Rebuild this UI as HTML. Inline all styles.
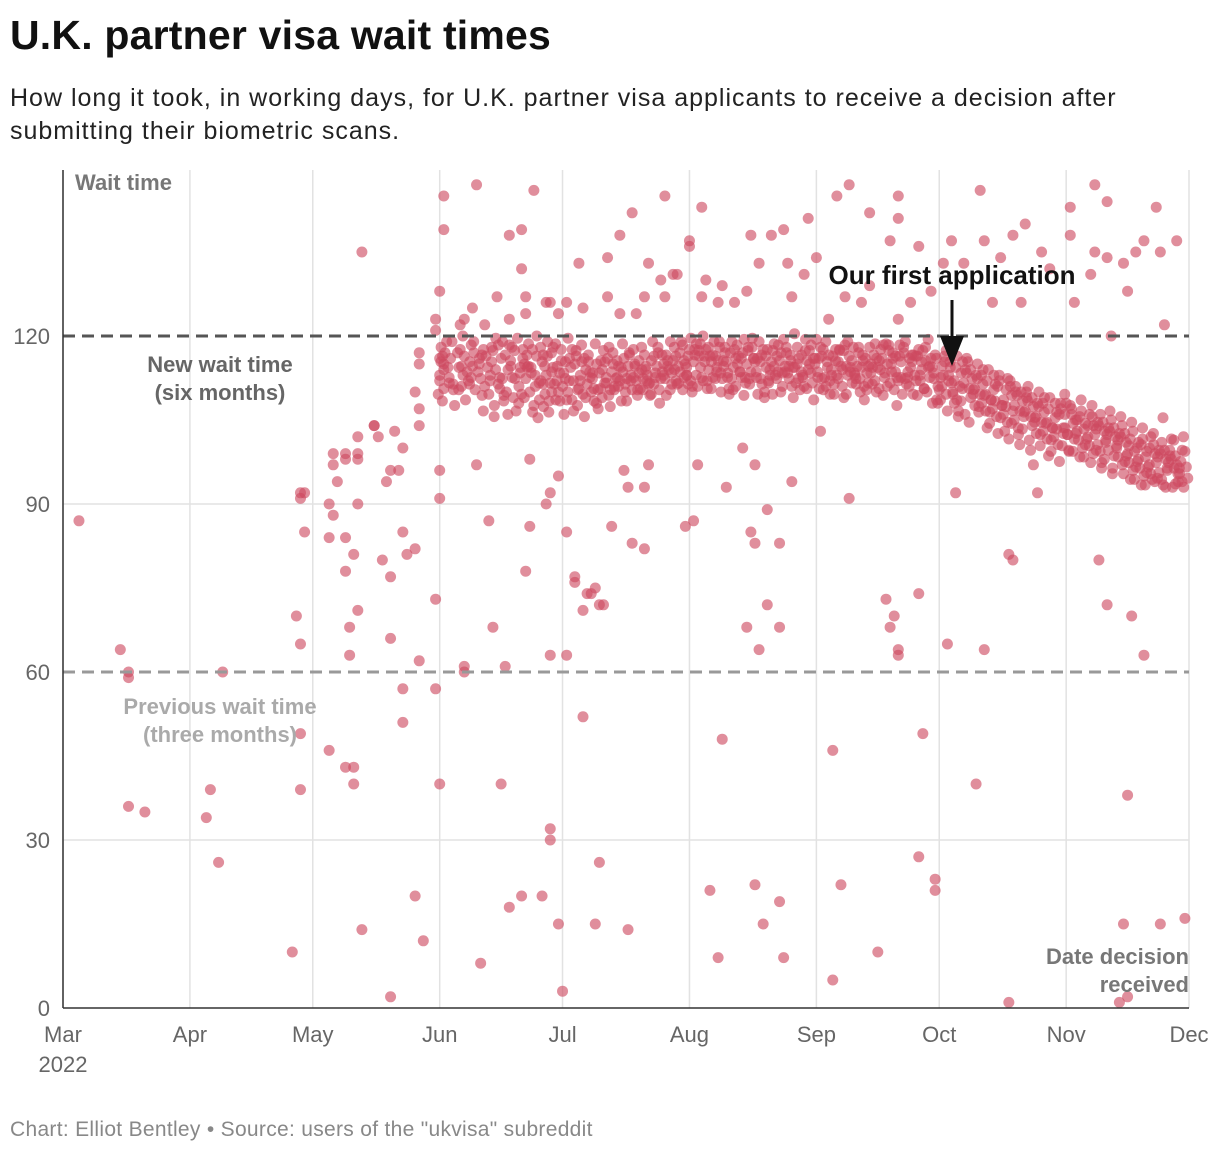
<!DOCTYPE html>
<html><head><meta charset="utf-8">
<style>
body{margin:0;background:#fff;width:1220px;height:1154px;overflow:hidden;font-family:"Liberation Sans",sans-serif;}
#title{position:absolute;left:10px;top:12px;font-size:41px;font-weight:bold;color:#111;letter-spacing:0.2px}
#subtitle{position:absolute;left:10px;top:82px;font-size:25px;line-height:33px;color:#222;width:1150px;letter-spacing:1px}
#footer{position:absolute;left:10px;top:1118px;font-size:21px;color:#888;letter-spacing:0.3px}
svg{position:absolute;left:0;top:0}
</style></head><body>
<div id="title">U.K. partner visa wait times</div>
<div id="subtitle">How long it took, in working days, for U.K. partner visa applicants to receive a decision after submitting their biometric scans.</div>
<div id="footer">Chart: Elliot Bentley • Source: users of the "ukvisa" subreddit</div>
<svg id="chart" width="1220" height="1154"></svg>
<script>
const monthLabels=["Mar","Apr","May","Jun","Jul","Aug","Sep","Oct","Nov","Dec"];
const monthDays=[0,31,61,92,122,153,184,214,245,275];
const yTicks=[0,30,60,90,120];
const sparsePoints=[[3.9,87],[14,64],[16,60],[16,59],[16,36],[20,35],[35,34],[36,39],[38,26],[39,60],[56,10],[57,70],[58,65],[58,39],[58,49],[58,92],[59,92],[58,91],[59,85],
[65,84],[65,46],[65,90],[66,88],[66,97],[66,99],[67,94],[69,84],[69,99],[69,43],[69,78],[70,63],[70,68],[71,81],[71,43],[71,40],[72,71],[72,90],[72,98],[72,102],[72,99],[73,135],[73,14],[69,98],
[76,104],[76,104],[77,102],[78,80],[79,94],[80,96],[80,77],[80,66],[80,2],[81,103],[82,96],[83,57],[83,51],[83,85],[83,100],[84,81],[86,82],[86,20],[87,62],[87,104],[86,110],[88,12],[87,117],[87,115],[87,107],
[91,57],[91,73],[92,40],[92,91],[92,96],[92,128],[93,145],[93,139],[92,116],[93,114],[93,115],[92,112],
[98,61],[98,60],[101,97],[101,147],[102,8],[104,87],[105,68],[106,127],[107,40],[108,61],[109,18],[109,138],[112,20],[112,139],[112,132],[113,127],[113,78],[114,98],[114,86],[115,146],[117,20],[118,90],[119,92],[119,63],
[119,32],[119,30],[121,15],[121,95],[122,3],[123,63],[123,85],[125,76],[125,77],[126,133],[127,52],[127,71],[128,74],[129,74],[130,75],[130,15],[131,26],[131,72],[132,72],[133,127],[133,134],[134,86],[136,138],[137,96],[138,14],[138,93],[139,83],[139,142],[142,82],[142,93],[143,97],[143,133],[147,145],[149,131],[152,86],[153,137],[154,87],[155,97],[156,143],[158,21],[160,9],[161,48],[162,93],[166,100],[169,97],[169,22],[167,68],[168,85],[169,83],[170,64],[171,15],[172,72],[172,89],[175,19],[175,68],[175,83],[176,9],[178,94],[182,141],[185,103],[188,46],[188,5],[190,22],[192,91],[189,145],[192,147],[197,142],[199,10],[201,73],[203,70],[202,68],[204,64],[204,63],[204,145],[204,141],[209,74],[209,27],[210,49],[213,23],[213,21],[216,65],[218,92],[223,40],[225,64],[224,146],[231,1],[231,81],[232,80],[237,97],[238,92],[246,143],[252,147],[253,80],[255,144],[255,72],[258,1],[259,15],[260,38],[260,2],[261,70],[264,63],[267,143],[268,15],[274,16],
[91,121],[91,123],[97,122],[98,123],[100,125],[103,122],[109,123],[113,124],[118,126],[119,126],[121,124],[123,126],[127,125],[136,124],[140,124],[142,127],[146,130],[147,127],[150,131],[153,136],[156,127],[157,130],[160,126],[161,129],[164,126],[167,128],[168,138],[170,133],[173,138],[176,139],[177,133],[178,127],[181,131],[184,134],[187,123],[191,127],[195,126],[197,129],[202,137],[204,123],[207,126],[209,136],[212,128],[215,133],[217,137],[220,133],[225,137],[227,126],[229,134],[232,138],[234,126],[235,140],[239,135],[241,132],[246,138],[247,126],[251,131],[252,135],[255,134],[256,120],[259,133],[260,128],[262,135],[264,137],[268,135],[272,137],[269,122]];
const denseWaits=[
[92,113,116,110,118],[93,115,111,119,108],[94,112,117,114],[95,116,110,113,119],[96,114,108,117,111],[97,118,113,110,115],[98,111,116,114,120],[99,115,109,112,118],[100,113,117,111,115],[101,116,110,114,119],[102,112,118,115,109],[103,117,111,114,107],[104,113,116,110,118],[105,115,108,112,117,120],[106,111,114,118,106],[107,116,109,113,119,111],[108,112,117,114,108],[109,115,110,118,113,106],[110,118,112,116,109],[111,114,107,111,117,120],[112,110,115,113,118,108],[113,116,112,119,109,114],[114,113,117,110,106,115],[115,118,111,114,108,120],[116,112,116,109,113,105],[117,115,110,118,107,112],[118,117,113,108,115,119,111],[119,110,116,112,118,106,114],[120,114,109,117,111,115],[121,116,112,108,119,110],
[122,111,115,118,106,113],[123,113,109,116,112,120],[124,118,110,114,107,112],[125,112,116,109,115,110],[126,115,108,113,117,111],[127,110,114,118,106,112],[128,116,111,113,109,115],[129,113,117,110,108,114],[130,111,115,112,119,107],[131,114,110,116,108,113],[132,117,112,109,115,111],[133,112,116,110,113,118],[134,115,109,114,111,107],[135,110,113,117,112,115],[136,114,111,108,116,112],[137,116,112,119,110,114],[138,111,115,113,108,117],[139,113,117,110,115,112],[140,115,110,118,112,113],[141,112,116,114,109,111],[142,117,113,110,115,118],[143,114,111,116,112,109],[144,116,112,119,113,110],[145,113,117,111,115,108],[146,115,110,114,118,112],[147,112,116,113,109,117],[148,117,114,111,115,119],[149,114,110,116,112,113],[150,116,112,118,111,114],[151,113,117,110,115,119],[152,115,111,116,113,118],
[153,114,118,111,116,120,113],[154,117,112,115,119,110],[155,113,116,118,111,114],[156,115,119,112,117,113],[157,118,114,116,111,120],[158,112,116,113,118,115],[159,116,111,119,114,117],[160,114,118,112,116,110],[161,117,113,115,119,112],[162,115,110,118,113,116],[163,113,117,114,111,119],[164,116,112,118,115,110],[165,118,114,111,116,113],[166,112,116,119,114,117],[167,115,111,113,118,109],[168,117,114,116,112,120],[169,113,118,115,110,116],[170,116,112,114,119,111],[171,114,117,110,115,118],[172,118,113,116,112,109],[173,112,115,119,114,117],[174,116,110,113,118,115],[175,114,117,112,116,111],[176,117,113,115,110,119],[177,113,116,118,112,114],[178,115,111,114,117,109],[179,118,114,112,116,120],[180,112,117,115,110,113],[181,116,113,119,114,111],[182,114,118,111,115,117],[183,117,112,116,113,109],
[184,113,116,119,111,115],[185,116,112,114,118,110],[186,114,118,111,116,113],[187,117,113,115,110,119],[188,112,116,118,114,111],[189,115,110,113,117,116],[190,118,114,112,115,109],[191,113,117,115,111,118],[192,116,112,119,114,110],[193,114,118,111,116,113],[194,117,113,115,110,112],[195,112,116,118,114,109],[196,115,111,113,117,116],[197,118,114,112,115,110],[198,113,117,116,111,119],[199,116,112,114,118,110],[200,114,118,111,116,113],[201,117,113,115,109,119],[202,112,116,118,114,111],[203,115,110,113,117,116],[204,118,114,112,115,108],[205,113,117,116,110,119],[206,116,112,114,118,111],[207,114,117,111,115,113],[208,117,113,116,110,112],[209,112,116,118,114,109],[210,115,111,113,117,116],[211,113,118,114,111,110],[212,116,112,115,108,119],[213,114,117,111,113,109],
[214,113,116,110,115,108],[215,111,115,109,113,117],[216,114,110,112,116,107],[217,112,108,115,110,113],[218,110,114,107,112,116],[219,113,109,111,115,106],[220,111,114,108,112,116],[221,109,113,111,106,115],[222,112,108,114,110,105],[223,110,113,107,111,115],[224,108,112,110,114,106],[225,111,107,113,109,104],[226,109,112,106,110,114],[227,107,111,109,113,104],[228,110,106,112,108,103],[229,108,111,105,109,113],[230,106,110,108,103,112],[231,109,105,111,107,102],[232,107,110,104,108,112],[233,105,109,107,111,102],[234,108,104,110,106,101],[235,106,109,103,107,111],[236,104,108,106,110,101],[237,107,103,109,105,100],[238,105,108,102,106,110],[239,103,107,105,109,100],[240,106,102,108,104,99],[241,104,107,101,105,109],[242,102,106,104,108,99],[243,105,101,107,103,98],[244,103,106,100,104,108],
[245,106,102,104,108,99,110],[246,104,100,106,102,108],[247,102,105,99,103,107],[248,105,101,107,103,98],[249,103,106,100,104,109],[250,101,104,98,102,106],[251,104,100,106,102,97],[252,102,105,99,103,108],[253,100,104,97,101,106],[254,103,99,105,101,96],[255,101,104,98,102,107],[256,99,103,96,100,105],[257,102,98,104,100,95],[258,100,103,97,101,106],[259,98,102,95,99,104],[260,101,97,103,99,94],[261,99,102,96,100,105],[262,97,101,94,98,103],[263,100,96,102,98,93],[264,98,101,95,99,104],[265,96,100,93,97,102],[266,99,95,101,97,94],[267,97,100,94,98,103],[268,95,99,93,96,101],[269,98,94,100,96,105],[270,96,99,93,97,102],[271,94,98,96,100,93],[272,97,95,99,94,101],[273,95,98,93,96,100],[274,97,94,99,95,102]];

const NS="http://www.w3.org/2000/svg";
const svg=document.getElementById('chart');
const X0=63,X1=1189,Y0=1008,DMAX=275;
function x(d){return X0+d*(X1-X0)/DMAX;}
function y(v){return Y0-v*5.6;}
function el(tag,attrs,parent){const e=document.createElementNS(NS,tag);for(const k in attrs)e.setAttribute(k,attrs[k]);(parent||svg).appendChild(e);return e;}
function txt(s,attrs){const e=el('text',attrs);e.textContent=s;return e;}

monthDays.forEach((d,i)=>{
  const g=el('line',{x1:x(d),x2:x(d),y1:170,y2:Y0,stroke:'#e2e2e2','stroke-width':1.5});
  
  
  const t=txt(monthLabels[i],{x:x(d),y:1042,'text-anchor':'middle','font-size':22,fill:'#666'});
  
  
});
const yr=txt('2022',{x:x(0),y:1072,'text-anchor':'middle','font-size':22,fill:'#666'});


yTicks.forEach(v=>{
  if(v===30||v===90){
    const g=el('line',{x1:X0,x2:X1,y1:y(v),y2:y(v),stroke:'#e2e2e2','stroke-width':1.5});
    
    
  }
  const t=txt(String(v),{x:50,y:y(v)+8,'text-anchor':'end','font-size':22,fill:'#666'});
  
  
});

const dots=el('g',{fill:'rgb(205,72,95)','fill-opacity':0.62});


function dot(d,v){
  const c=el('circle',{cx:x(d),cy:y(v),r:5.5},dots);
  
  
}
sparsePoints.forEach(p=>dot(p[0],p[1]));
denseWaits.forEach((r,k)=>{for(let i=1;i<r.length;i++)dot(r[0]+(((i*7+k*3)%5)-2)*0.35,r[i]+(((i+k)%3)-1)*0.4);});

const l120=el('line',{x1:X0,x2:X1,y1:y(120),y2:y(120),stroke:'#555','stroke-width':3,'stroke-dasharray':'12,7'});


const l60=el('line',{x1:X0,x2:X1,y1:y(60),y2:y(60),stroke:'#999','stroke-width':3,'stroke-dasharray':'12,7'});


const ax=el('line',{x1:X0,x2:X0,y1:170,y2:Y0,stroke:'#333','stroke-width':1.5});


const bx=el('line',{x1:X0,x2:X1,y1:Y0,y2:Y0,stroke:'#333','stroke-width':1.5});



function label(s,xx,yy,anchor,color,name,size){
  const t=txt(s,{x:xx,y:yy,'text-anchor':anchor,'font-size':size||22,'font-weight':'bold',fill:color});
  
  
}
label('Wait time',75,190,'start','#777','y-axis-title');
label('New wait time',220,372,'middle','#666','new-wait-label');
label('(six months)',220,400,'middle','#666','new-wait-label-2');
label('Previous wait time',220,714,'middle','#aaa','previous-wait-label');
label('(three months)',220,742,'middle','#aaa','previous-wait-label-2');
label('Date decision',1189,964,'end','#777','x-axis-title');
label('received',1189,992,'end','#777','x-axis-title-2');
label('Our first application',952,284,'middle','#111','first-application-label',26);
const arr=el('line',{x1:952,x2:952,y1:300,y2:345,stroke:'#111','stroke-width':3});


const head=el('path',{d:'M940,336 L964,336 L952,366 Z',fill:'#111'});


</script>
</body></html>
